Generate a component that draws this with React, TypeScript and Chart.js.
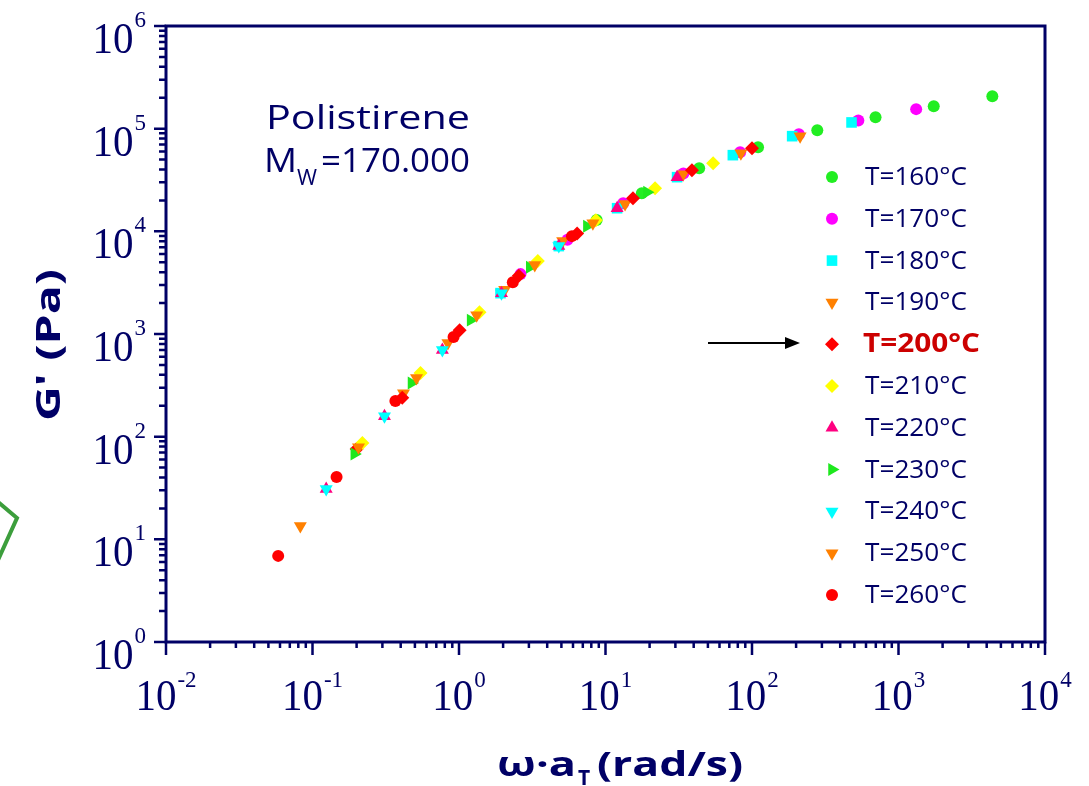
import React, { useEffect, useRef } from 'react';
import { Chart, registerables } from 'chart.js';

Chart.register(...registerables);

// ---------- data (ω·aT [rad/s], G' [Pa]) ----------
const seriesLabels = ['T=160°C', 'T=170°C', 'T=180°C', 'T=190°C', 'T=200°C', 'T=210°C', 'T=220°C', 'T=230°C', 'T=240°C', 'T=250°C', 'T=260°C'];
const seriesColors = ['#22ee22', '#ff00ff', '#00ffff', '#ff8000', '#ff0000', '#ffff00', '#ff0080', '#1ee81e', '#00ffff', '#ff8000', '#ff0000'];
const seriesStyles = ['circle', 'circle', 'rect', 'triangle', 'rectRot', 'rectRot', 'triangle', 'triangle', 'triangle', 'triangle', 'circle'];
const seriesRotations = [0, 0, 0, 180, 0, 0, 0, 90, 180, 180, 0];

const g160 = [[8.7, 12900], [17.7, 23500], [43.6, 41200], [110, 66000], [279, 96600], [697, 129000], [1740, 165000], [4370, 207000]];
const g170 = [[2.63, 3830], [5.5, 8300], [13.2, 18800], [34, 36500], [83, 59000], [209, 88300], [532, 120000], [1320, 155000]];
const g180 = [[1.92, 2500], [4.8, 7180], [12, 16800], [30.8, 33700], [74, 55200], [188, 84500], [478, 115000]];
const g190 = [[0.418, 265], [0.84, 815], [2.05, 2700], [5.1, 8030], [13.6, 18500], [33.9, 36000], [84, 57700], [213, 84500]];
const g200 = [[0.2, 76], [0.41, 240], [1.01, 1090], [2.56, 3700], [6.4, 9550], [15.4, 21000], [38.9, 39400], [100, 64600]];
const g210 = [[0.219, 86.6], [0.546, 416], [1.38, 1630], [3.45, 5130], [8.6, 12800], [21.8, 26300], [54.3, 46100]];
const g220 = [[0.124, 31], [0.31, 158], [0.77, 697], [1.95, 2500], [4.8, 7180], [12, 16800], [30.8, 33700]];
const g230 = [[0.193, 67.7], [0.474, 333], [1.2, 1365], [3.04, 4470], [7.46, 11200], [19.2, 24000]];
const g240 = [[0.124, 31], [0.31, 158], [0.77, 697], [1.95, 2500], [4.8, 7180]];
const g250 = [[0.0826, 13.5], [0.206, 79], [0.513, 372], [1.32, 1520], [3.29, 4700], [8.2, 12000]];
const g260 = [[0.0583, 6.9], [0.146, 40.4], [0.368, 222], [0.918, 933], [2.33, 3200], [5.9, 8980]];
const seriesData = [g160, g170, g180, g190, g200, g210, g220, g230, g240, g250, g260];

const xDecades = [-2, -1, 0, 1, 2, 3, 4];
const yDecades = [0, 1, 2, 3, 4, 5, 6];

const NAVY = '#000066';

function radiusFor(style: string) {
  if (style === 'circle') return 6;
  if (style === 'rect') return 7.5;
  if (style === 'rectRot') return 7;
  return 7.5;
}

function drawMarker(ctx: CanvasRenderingContext2D, style: string, rot: number, x: number, y: number, r: number, color: string) {
  ctx.save();
  ctx.fillStyle = color;
  ctx.beginPath();
  if (style === 'circle') {
    ctx.arc(x, y, r, 0, Math.PI * 2);
  } else if (style === 'rect') {
    const s = r * Math.SQRT1_2;
    ctx.rect(x - s, y - s, 2 * s, 2 * s);
  } else if (style === 'rectRot') {
    ctx.moveTo(x, y - r); ctx.lineTo(x + r, y); ctx.lineTo(x, y + r); ctx.lineTo(x - r, y);
  } else {
    let a = (rot * Math.PI) / 180;
    for (let i = 0; i < 3; i++) {
      const px = x + Math.sin(a) * r, py = y - Math.cos(a) * r;
      if (i === 0) ctx.moveTo(px, py); else ctx.lineTo(px, py);
      a += (2 * Math.PI) / 3;
    }
  }
  ctx.closePath();
  ctx.fill();
  ctx.restore();
}

function fitText(ctx: CanvasRenderingContext2D, text: string, x: number, y: number, sx: number, sy = 1) {
  ctx.save();
  ctx.translate(x, y);
  ctx.scale(sx, sy);
  ctx.textAlign = 'left';
  ctx.fillText(text, 0, 0);
  ctx.restore();
}

const decorPlugin = {
  id: 'decor',
  beforeDatasetsDraw(chart: any) {
    const ctx: CanvasRenderingContext2D = chart.ctx;
    const xs = chart.scales.x, ys = chart.scales.y;
    const { left, right, top, bottom } = chart.chartArea;
    ctx.save();
    ctx.strokeStyle = NAVY;
    ctx.lineWidth = 3;
    ctx.beginPath();
    ctx.rect(left, top, right - left, bottom - top);
    ctx.stroke();
    ctx.lineWidth = 2.5;
    ctx.beginPath();
    // x ticks
    xDecades.forEach((e, i) => {
      const p = xs.getPixelForValue(Math.pow(10, e));
      ctx.moveTo(p, bottom); ctx.lineTo(p, bottom + 13);
      if (i < xDecades.length - 1) {
        for (let m = 2; m <= 9; m++) {
          const q = xs.getPixelForValue(m * Math.pow(10, e));
          ctx.moveTo(q, bottom); ctx.lineTo(q, bottom + 6);
        }
      }
    });
    // y ticks
    yDecades.forEach((e, i) => {
      const p = ys.getPixelForValue(Math.pow(10, e));
      ctx.moveTo(left, p); ctx.lineTo(left - 12, p);
      if (i < yDecades.length - 1) {
        for (let m = 2; m <= 9; m++) {
          const q = ys.getPixelForValue(m * Math.pow(10, e));
          ctx.moveTo(left, q); ctx.lineTo(left - 7, q);
        }
      }
    });
    ctx.stroke();

    // tick labels
    ctx.fillStyle = NAVY;
    ctx.textBaseline = 'alphabetic';
    const bigFont = '41px "Liberation Serif", serif';
    const expFont = '23px "Liberation Serif", serif';
    const vs = 1.1;
    yDecades.forEach((e) => {
      const p = ys.getPixelForValue(Math.pow(10, e));
      const ex = String(e);
      ctx.font = expFont;
      const we = ctx.measureText(ex).width;
      fitText(ctx, ex, 146 - we, p + 1, 1);
      ctx.font = bigFont;
      const w10 = ctx.measureText('10').width;
      fitText(ctx, '10', 146 - we - 1 - w10, p + 27, 1, vs);
    });
    xDecades.forEach((e) => {
      const p = xs.getPixelForValue(Math.pow(10, e));
      const ex = e < 0 ? '-' + Math.abs(e) : String(e);
      ctx.font = bigFont;
      const w10 = ctx.measureText('10').width;
      ctx.font = expFont;
      const we = ctx.measureText(ex).width;
      const start = p - (w10 + we + 1) / 2;
      ctx.font = bigFont;
      fitText(ctx, '10', start, 710, 1, vs);
      ctx.font = expFont;
      fitText(ctx, ex, start + w10 + 1, 687, 1);
    });
    ctx.restore();
  },
  afterDraw(chart: any) {
    const ctx: CanvasRenderingContext2D = chart.ctx;
    ctx.save();
    ctx.fillStyle = NAVY;
    ctx.textBaseline = 'alphabetic';

    // Legend
    const font = '26px "Open Sans", sans-serif';
    const bold = 'bold 26px "Open Sans", sans-serif';
    ctx.font = font;
    const sN = 102 / ctx.measureText('T=160°C').width;
    ctx.font = bold;
    const sB = 117 / ctx.measureText('T=200°C').width;
    seriesLabels.forEach((lab, i) => {
      const y = 177 + i * 41.8;
      drawMarker(ctx, seriesStyles[i], seriesRotations[i], 832, y, radiusFor(seriesStyles[i]), seriesColors[i]);
      if (i === 4) {
        ctx.font = bold; ctx.fillStyle = '#cc0000';
        fitText(ctx, lab, 863, y + 8, sB);
      } else {
        ctx.font = font; ctx.fillStyle = NAVY;
        fitText(ctx, lab, 865, y + 8, sN);
      }
    });

    // Sample annotation
    ctx.fillStyle = NAVY;
    ctx.font = '32px "Open Sans", sans-serif';
    fitText(ctx, 'Polistirene', 266, 129, 204 / ctx.measureText('Polistirene').width);
    fitText(ctx, 'M', 264, 172, 33 / ctx.measureText('M').width);
    fitText(ctx, '=170.000', 321, 172, 149 / ctx.measureText('=170.000').width);
    ctx.font = '22px "Open Sans", sans-serif';
    fitText(ctx, 'W', 297, 185, 20 / ctx.measureText('W').width);

    // x-axis title
    ctx.font = 'bold 34px "Open Sans", sans-serif';
    fitText(ctx, 'ω·a', 497, 776, 79 / ctx.measureText('ω·a').width);
    fitText(ctx, '(rad/s)', 597, 776, 146 / ctx.measureText('(rad/s)').width);
    ctx.font = 'bold 21px "Open Sans", sans-serif';
    fitText(ctx, 'T', 578, 785, 1);

    // y-axis title
    ctx.save();
    ctx.translate(60, 345);
    ctx.rotate(-Math.PI / 2);
    ctx.font = 'bold 34px "Open Sans", sans-serif';
    const yt = "G' (Pa)";
    const wy = ctx.measureText(yt).width;
    fitText(ctx, yt, -76, 0, 152 / wy);
    ctx.restore();

    // arrow
    ctx.strokeStyle = '#000000';
    ctx.fillStyle = '#000000';
    ctx.lineWidth = 2;
    ctx.beginPath();
    ctx.moveTo(708, 343); ctx.lineTo(786, 343);
    ctx.stroke();
    ctx.beginPath();
    ctx.moveTo(785, 337); ctx.lineTo(800, 343); ctx.lineTo(785, 349);
    ctx.closePath();
    ctx.fill();

    // partial green frame at the left edge
    ctx.strokeStyle = '#3c9e3c';
    ctx.lineWidth = 4;
    ctx.beginPath();
    ctx.moveTo(-2, 502); ctx.lineTo(17, 518); ctx.lineTo(-2, 560);
    ctx.stroke();
    ctx.restore();
  },
};

export default function App() {
  const ref = useRef<HTMLCanvasElement>(null);
  useEffect(() => {
    const canvas = ref.current;
    if (!canvas) return;
    const datasets = seriesData.map((d, i) => ({
      label: seriesLabels[i],
      data: d.map(([x, y]) => ({ x, y })),
      pointStyle: seriesStyles[i] as any,
      rotation: seriesRotations[i],
      pointRadius: radiusFor(seriesStyles[i]),
      backgroundColor: seriesColors[i],
      borderColor: seriesColors[i],
      borderWidth: 0,
      showLine: false,
      order: seriesData.length - i,
    }));
    const chart = new Chart(canvas, {
      type: 'scatter',
      data: { datasets },
      options: {
        responsive: false,
        animation: false,
        devicePixelRatio: 1,
        layout: { padding: { top: 26, right: 44, left: 0, bottom: 0 } },
        plugins: { legend: { display: false }, tooltip: { enabled: false } },
        scales: {
          x: {
            type: 'logarithmic', min: 0.01, max: 10000,
            grid: { display: false }, border: { display: false }, ticks: { display: false },
            afterFit: (s: any) => { s.height = 144; },
          },
          y: {
            type: 'logarithmic', min: 1, max: 1e6,
            grid: { display: false }, border: { display: false }, ticks: { display: false },
            afterFit: (s: any) => { s.width = 166; },
          },
        },
      } as any,
      plugins: [decorPlugin],
    });
    return () => chart.destroy();
  }, []);
  return (
    <div style={{ position: 'fixed', left: 0, top: 0, width: 1089, height: 786, background: '#ffffff' }}>
      <canvas ref={ref} width={1089} height={786} style={{ display: 'block' }} />
    </div>
  );
}
